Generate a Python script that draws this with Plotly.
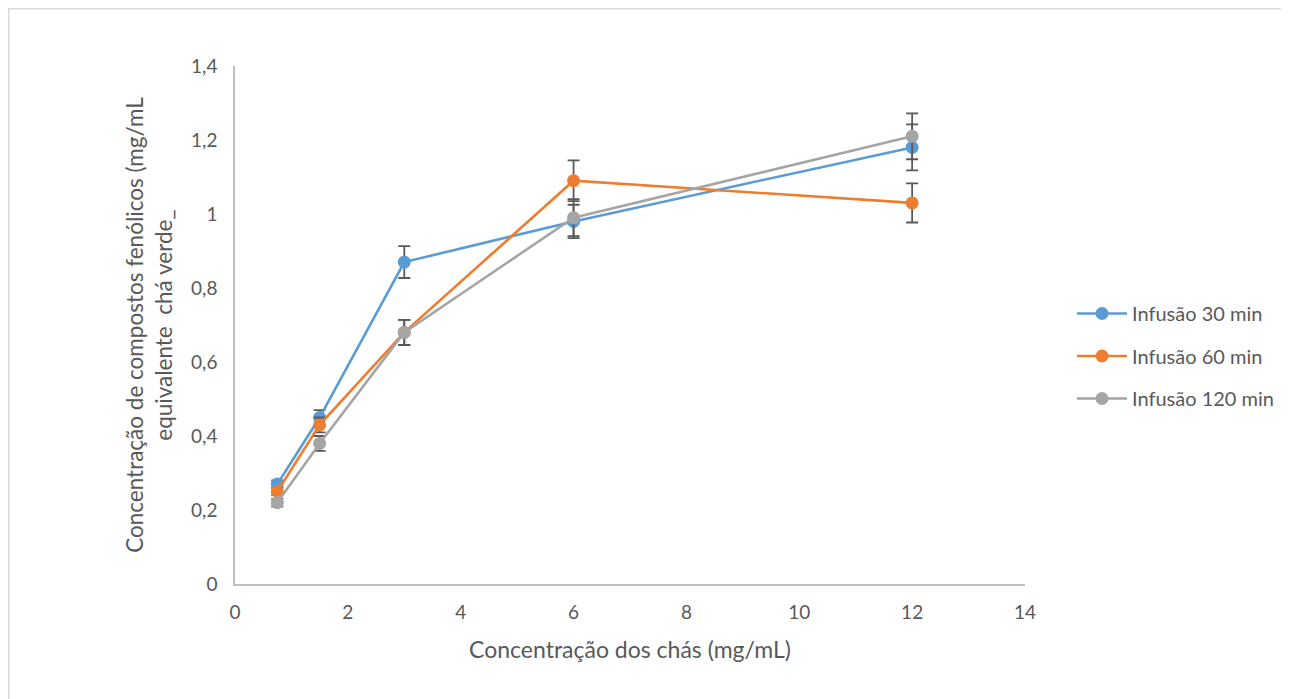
import plotly.graph_objects as go

conc = [0.75, 1.5, 3, 6, 12]
names = ["Infusão 30 min", "Infusão 60 min", "Infusão 120 min"]
vals_30 = [0.27, 0.45, 0.87, 0.98, 1.18]
vals_60 = [0.25, 0.43, 0.68, 1.09, 1.03]
vals_120 = [0.22, 0.38, 0.68, 0.99, 1.21]
err_30 = [0.01, 0.02, 0.043, 0.045, 0.062]
err_60 = [0.01, 0.02, 0.034, 0.055, 0.053]
err_120 = [0.01, 0.02, 0.034, 0.05, 0.062]
colors = ["#5B9BD5", "#ED7D31", "#A5A5A5"]

# page is rendered with an 8px body margin
W, H = 1310, 691
L, T = 227, 58
pw, ph = 790, 518
R = W - L - pw
B = H - T - ph

fig = go.Figure()
for name, v, e, c in zip(names, [vals_30, vals_60, vals_120], [err_30, err_60, err_120], colors):
    fig.add_trace(go.Scatter(
        x=conc, y=v, name=name, legendgroup=name, mode="lines+markers",
        line=dict(color=c, width=2.6),
        marker=dict(color=c, size=13),
        error_y=dict(type="data", array=e, visible=True, color="#595959", thickness=1.8, width=6),
    ))

def px2paper(x, y):
    return (x - L) / pw, (T + ph - y) / ph

x0, y0 = px2paper(0.8, 0.8)
x1, y1 = px2paper(W + 20, H + 20)

fig.add_shape(type="rect", xref="paper", yref="paper", x0=x0, y0=y1, x1=x1, y1=y0,
              line=dict(color="#D9D9D9", width=1.5), fillcolor="rgba(0,0,0,0)", layer="below")

font = "Lato, 'Open Sans', sans-serif"
fig.update_layout(
    width=W, height=H,
    margin=dict(l=L, r=R, t=T, b=B),
    paper_bgcolor="white", plot_bgcolor="white",
    separators=", ",
    font=dict(family=font, size=19, color="#595959"),
    xaxis=dict(range=[0, 14], dtick=2, showgrid=False, zeroline=False,
               showline=True, linecolor="#BFBFBF", linewidth=1.5, ticks="",
               title=dict(text="Concentração dos chás (mg/mL)", font=dict(size=23, color="#595959"), standoff=20),
               tickfont=dict(size=19, color="#595959"), ticklabelstandoff=10),
    yaxis=dict(range=[0, 1.4], dtick=0.2, showgrid=False, zeroline=False,
               showline=True, linecolor="#BFBFBF", linewidth=1.5, ticks="",
               title=dict(text="Concentração de compostos fenólicos (mg/mL<br>equivalente  chá verde_", font=dict(size=22.5, color="#595959"), standoff=12),
               tickfont=dict(size=19, color="#595959"), ticklabelstandoff=12),
    legend=dict(x=(1064 - L) / pw, y=(T + ph - 286) / ph, xanchor="left", yanchor="top",
                font=dict(size=20, color="#595959"), tracegroupgap=13.5, itemwidth=50,
                bgcolor="rgba(0,0,0,0)"),
    showlegend=True,
)
fig.write_html("out.html")
